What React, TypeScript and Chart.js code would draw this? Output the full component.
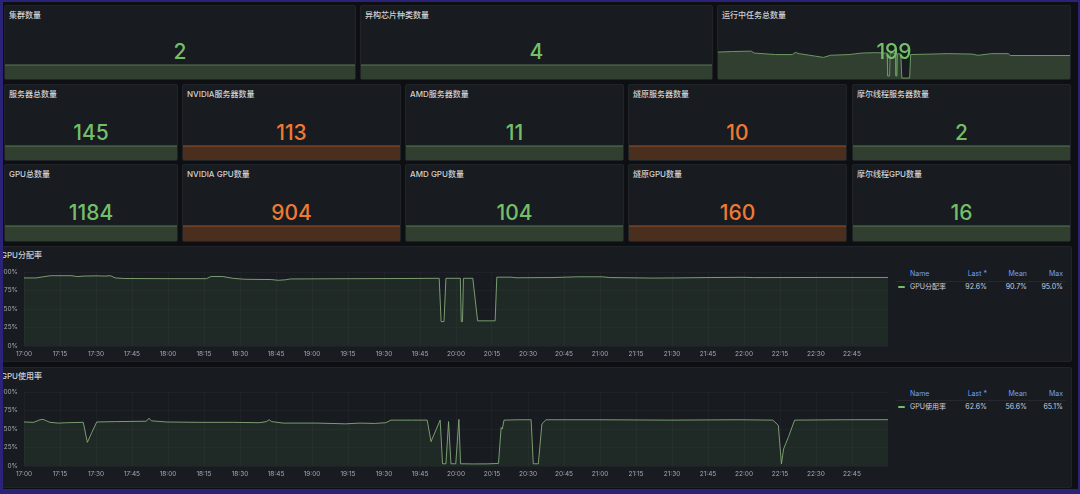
import React, { useEffect, useRef } from "react";
import { Chart, registerables } from "chart.js";

Chart.register(...registerables);

// ---------------- data ----------------
const RANGE_MIN = 0;
const RANGE_MAX = 360; // minutes after 17:00
const TICK_MINUTES = [0, 15, 30, 45, 60, 75, 90, 105, 120, 135, 150, 165, 180, 195, 210, 225, 240, 255, 270, 285, 300, 315, 330, 345];
const TICK_LABELS = ["17:00", "17:15", "17:30", "17:45", "18:00", "18:15", "18:30", "18:45", "19:00", "19:15", "19:30", "19:45", "20:00", "20:15", "20:30", "20:45", "21:00", "21:15", "21:30", "21:45", "22:00", "22:15", "22:30", "22:45"];
const Y_TICKS = [0, 25, 50, 75, 100];

const ROW1_TITLES = ["集群数量", "异构芯片种类数量", "运行中任务总数量"];
const ROW1_VALUES = [2, 4, 199];
const ROW2_TITLES = ["服务器总数量", "NVIDIA服务器数量", "AMD服务器数量", "燧原服务器数量", "摩尔线程服务器数量"];
const ROW2_VALUES = [145, 113, 11, 10, 2];
const ROW2_LEVELS = ["ok", "warn", "ok", "warn", "ok"];
const ROW3_TITLES = ["GPU总数量", "NVIDIA GPU数量", "AMD GPU数量", "燧原GPU数量", "摩尔线程GPU数量"];
const ROW3_VALUES = [1184, 904, 104, 160, 16];
const ROW3_LEVELS = ["ok", "warn", "ok", "warn", "ok"];

const FLAT_T = [0, 360];

const TASK_T = [0, 15, 34, 37, 59, 76, 79, 83, 100, 108, 115, 134, 147, 161, 171, 173, 173.5, 175.5, 176, 181.5, 182, 183, 183.5, 187, 188, 196, 197, 236, 260, 266, 280, 297, 299, 360];
const TASK_V = [228, 233, 236, 220, 207, 207, 225, 215, 193, 183, 201, 207, 220, 223, 220, 220, 25, 25, 220, 220, 25, 25, 215, 212, 8, 8, 207, 215, 211, 201, 215, 215, 199, 199];
const TASK_MAX = 322;

const ALLOC_T = [0, 5, 8, 11, 20, 22, 25, 30, 34, 36, 38, 42, 60, 76, 78, 83, 87, 92, 103, 106, 109, 111, 125, 140, 160, 173, 173.8, 175, 175.8, 181.8, 182.2, 182.7, 183.1, 187, 189, 196.3, 197, 203, 205, 220, 231, 241, 244, 262, 272, 285, 300, 304, 330, 360];
const ALLOC_V = [92, 92, 93.5, 95, 95, 93.8, 94.5, 94.8, 94.5, 95, 92, 91.2, 91, 91, 94, 93.8, 91.5, 90.2, 89.8, 88.8, 89.5, 90.6, 90.8, 91, 91.2, 91.5, 33, 33, 91.5, 91.5, 33, 33, 91.5, 91.5, 34, 34, 93, 93, 92.2, 92.5, 93.5, 93.5, 92.5, 91.8, 92, 92.5, 92.8, 92.4, 92.6, 92.6];
const ALLOC_STATS = ["92.6%", "90.7%", "95.0%"];

const USAGE_T = [0, 4, 6.7, 8, 9.4, 10.8, 14.3, 17.8, 24.7, 26.4, 28.2, 30.3, 38.6, 51, 52, 53.2, 59.4, 73, 87, 98, 101, 102.2, 103.2, 108, 122, 134, 140, 146, 150.7, 152.9, 161.5, 168, 169.6, 171.8, 173.4, 174.4, 175.8, 176.9, 177.9, 179.9, 181.2, 181.9, 187.3, 193.1, 197.7, 198.8, 199.3, 200, 206, 211.3, 212.2, 214.3, 215.8, 217.5, 240, 269, 298, 312, 314.3, 315.6, 316.5, 318.6, 321.1, 341, 360];
const USAGE_V = [59.5, 59, 62.5, 63, 61, 59, 58, 58.5, 59, 32, 45, 59.5, 60, 60.5, 64.5, 61, 59.5, 59, 59, 58.5, 60, 62.5, 60, 58, 58, 57, 58, 57.5, 58.5, 62, 62, 62, 33, 50, 62, 3, 3, 60, 3, 3, 63, 3, 2.8, 2.9, 3.5, 52, 50, 62, 62.5, 62.5, 3, 3, 57, 62.5, 62.5, 62, 62.5, 62, 55, 3, 23, 40, 62, 62.5, 62.6];
const USAGE_STATS = ["62.6%", "56.6%", "65.1%"];

const LEGEND_HEADERS = ["Name", "Last *", "Mean", "Max"];

// ---------------- style ----------------
const FONT = 'Inter, "Noto Sans CJK SC", "Noto Sans", sans-serif';
const BG = "#0e0f13";
const PANEL_BG = "#181b1f";
const PANEL_BORDER = "#202328";
const TITLE_COLOR = "#d0d1d6";
const TICK_COLOR = "rgba(204,204,220,0.78)";
const GRID = "rgba(204,204,220,0.035)";
const FRAME = "#2b2378";
const COLORS = {
  ok: { text: "#73bf69", fill: "#313f30", line: "#587a51" },
  warn: { text: "#ec7a35", fill: "#4a2e1e", line: "#99522a" },
};

function pts(t: number[], v: number[]) {
  return t.map((x, i) => ({ x, y: v[i] }));
}

function CanvasChart({ left, top, width, height, makeConfig }: any) {
  const ref = useRef<HTMLCanvasElement | null>(null);
  useEffect(() => {
    const chart = new Chart(ref.current as HTMLCanvasElement, makeConfig());
    return () => chart.destroy();
  }, []);
  return (
    <canvas
      ref={ref}
      width={width}
      height={height}
      style={{ position: "absolute", left, top, width, height, display: "block" }}
    />
  );
}

function sparkConfig(t: number[], v: number[], max: number, line: string, fill: string) {
  return () => ({
    type: "line",
    data: {
      datasets: [
        {
          data: pts(t, v),
          borderColor: line,
          backgroundColor: fill,
          borderWidth: 1,
          fill: "origin",
          pointRadius: 0,
          tension: 0,
          clip: false,
        },
      ],
    },
    options: {
      animation: false,
      responsive: false,
      events: [],
      layout: { padding: { top: 1, left: 0, right: 0, bottom: 0 } },
      scales: {
        x: { type: "linear", display: false, min: RANGE_MIN, max: RANGE_MAX },
        y: { display: false, min: 0, max },
      },
      plugins: { legend: { display: false }, tooltip: { enabled: false } },
    },
  });
}

function StatPanel({ left, top, width, height, title, value, level, band, valueCenter, series }: any) {
  const c = COLORS[level as "ok" | "warn"];
  const fs = 21;
  const innerW = width - 2;
  return (
    <div
      style={{
        position: "absolute",
        left,
        top,
        width,
        height,
        boxSizing: "border-box",
        background: PANEL_BG,
        border: `1px solid ${PANEL_BORDER}`,
        borderRadius: 2,
        overflow: "hidden",
      }}
    >
      <CanvasChart
        left={0}
        top={height - 2 - band}
        width={innerW}
        height={band}
        makeConfig={sparkConfig(series.t, series.v, series.max, series.line || c.line, c.fill)}
      />
      <div
        style={{
          position: "absolute",
          left: 4,
          top: 5,
          fontSize: 8,
          lineHeight: "8px",
          fontWeight: 500,
          color: TITLE_COLOR,
          whiteSpace: "nowrap",
          zIndex: 2,
        }}
      >
        {title}
      </div>
      <div
        style={{
          position: "absolute",
          left: 0,
          right: 0,
          top: valueCenter - 1 - fs / 2,
          fontSize: fs,
          lineHeight: `${fs}px`,
          fontWeight: 500,
          color: c.text,
          textAlign: "center",
          zIndex: 2,
        }}
      >
        {value}
      </div>
    </div>
  );
}

function tsConfig(t: number[], v: number[]) {
  return () => ({
    type: "line",
    data: {
      datasets: [
        {
          data: pts(t, v),
          borderColor: "rgba(138,178,126,0.85)",
          backgroundColor: "rgba(115,191,105,0.09)",
          borderWidth: 1,
          fill: "origin",
          pointRadius: 0,
          tension: 0,
        },
      ],
    },
    options: {
      animation: false,
      responsive: false,
      events: [],
      layout: { padding: { top: 10, right: 2, left: 0, bottom: 0 } },
      scales: {
        x: {
          type: "linear",
          min: RANGE_MIN,
          max: RANGE_MAX,
          afterBuildTicks: (s: any) => {
            s.ticks = TICK_MINUTES.map((m) => ({ value: m }));
          },
          afterFit: (s: any) => {
            s.height = 16;
          },
          grid: { color: GRID, drawTicks: false },
          border: { display: false },
          ticks: {
            autoSkip: false,
            maxRotation: 0,
            padding: 4,
            color: TICK_COLOR,
            font: { family: FONT, size: 6.5 },
            callback: (val: any) => {
              const i = TICK_MINUTES.indexOf(Number(val));
              return i >= 0 ? TICK_LABELS[i] : "";
            },
          },
        },
        y: {
          min: 0,
          max: 100,
          afterBuildTicks: (s: any) => {
            s.ticks = Y_TICKS.map((m) => ({ value: m }));
          },
          afterFit: (s: any) => {
            s.width = 24;
          },
          grid: { color: GRID, drawTicks: false },
          border: { display: false },
          ticks: {
            padding: 6,
            color: TICK_COLOR,
            font: { family: FONT, size: 6.5 },
            callback: (val: any) => `${val}%`,
          },
        },
      },
      plugins: { legend: { display: false }, tooltip: { enabled: false } },
    },
  });
}

function TimeSeriesPanel({ top, height, title, t, v, name, stats, canvasTop, headerY, rowY }: any) {
  const lbl = (txt: string, x: number, y: number, align: "left" | "right", color: string, key: string) => (
    <div
      key={key}
      style={{
        position: "absolute",
        top: y - 4,
        ...(align === "left" ? { left: x } : { left: x - 60, width: 60, textAlign: "right" as const }),
        fontSize: 7,
        lineHeight: "8px",
        color,
        whiteSpace: "nowrap",
      }}
    >
      {txt}
    </div>
  );
  const colRight = [987, 1027, 1063];
  return (
    <>
      <div
        style={{
          position: "absolute",
          left: -5,
          top,
          width: 1077,
          height,
          boxSizing: "border-box",
          background: PANEL_BG,
          border: `1px solid ${PANEL_BORDER}`,
          borderRadius: 2,
        }}
      />
      <div
        style={{
          position: "absolute",
          left: 1,
          top: top + 5,
          fontSize: 8,
          lineHeight: "9px",
          fontWeight: 500,
          color: TITLE_COLOR,
          whiteSpace: "nowrap",
        }}
      >
        {title}
      </div>
      <CanvasChart left={0} top={canvasTop} width={890} height={100} makeConfig={tsConfig(t, v)} />
      {lbl(LEGEND_HEADERS[0], 910, headerY, "left", "#6e9fff", "h0")}
      {lbl(LEGEND_HEADERS[1], colRight[0], headerY, "right", "#6e9fff", "h1")}
      {lbl(LEGEND_HEADERS[2], colRight[1], headerY, "right", "#6e9fff", "h2")}
      {lbl(LEGEND_HEADERS[3], colRight[2], headerY, "right", "#6e9fff", "h3")}
      <div
        style={{
          position: "absolute",
          left: 896,
          top: Math.round((headerY + rowY) / 2),
          width: 170,
          height: 1,
          background: "rgba(204,204,220,0.08)",
        }}
      />
      <div
        style={{
          position: "absolute",
          left: 898,
          top: rowY - 1,
          width: 7,
          height: 2,
          borderRadius: 1,
          background: "#73bf69",
        }}
      />
      {lbl(name, 910, rowY, "left", "#ccccdc", "n")}
      {lbl(stats[0], colRight[0], rowY, "right", "#ccccdc", "s0")}
      {lbl(stats[1], colRight[1], rowY, "right", "#ccccdc", "s1")}
      {lbl(stats[2], colRight[2], rowY, "right", "#ccccdc", "s2")}
    </>
  );
}

// layout
const ROW1_COLS = [
  [4, 356],
  [360, 713],
  [717, 1071],
];
const ROW23_COLS = [
  [4, 178],
  [182, 401],
  [405, 624],
  [628, 847],
  [852, 1071],
];

export default function App() {
  return (
    <div
      style={{
        position: "relative",
        width: 1080,
        height: 494,
        overflow: "hidden",
        background: BG,
        fontFamily: FONT,
      }}
    >
      <style>{`body{margin:0;background:${BG};}`}</style>

      {ROW1_TITLES.map((title, i) => {
        const [l, r] = ROW1_COLS[i];
        const isTask = i === 2;
        return (
          <StatPanel
            key={`r1-${i}`}
            left={l}
            top={5}
            width={r - l}
            height={75}
            title={title}
            value={ROW1_VALUES[i]}
            level="ok"
            band={isTask ? 39 : 15}
            valueCenter={46}
            series={
              isTask
                ? { t: TASK_T, v: TASK_V, max: TASK_MAX, line: "#6a9960" }
                : { t: FLAT_T, v: [ROW1_VALUES[i], ROW1_VALUES[i]], max: ROW1_VALUES[i] }
            }
          />
        );
      })}

      {ROW2_TITLES.map((title, i) => {
        const [l, r] = ROW23_COLS[i];
        return (
          <StatPanel
            key={`r2-${i}`}
            left={l}
            top={84}
            width={r - l}
            height={77}
            title={title}
            value={ROW2_VALUES[i]}
            level={ROW2_LEVELS[i]}
            band={15}
            valueCenter={48.5}
            series={{ t: FLAT_T, v: [ROW2_VALUES[i], ROW2_VALUES[i]], max: ROW2_VALUES[i] }}
          />
        );
      })}

      {ROW3_TITLES.map((title, i) => {
        const [l, r] = ROW23_COLS[i];
        return (
          <StatPanel
            key={`r3-${i}`}
            left={l}
            top={164}
            width={r - l}
            height={78}
            title={title}
            value={ROW3_VALUES[i]}
            level={ROW3_LEVELS[i]}
            band={16}
            valueCenter={48.5}
            series={{ t: FLAT_T, v: [ROW3_VALUES[i], ROW3_VALUES[i]], max: ROW3_VALUES[i] }}
          />
        );
      })}

      <TimeSeriesPanel
        top={246}
        height={116}
        title="GPU分配率"
        t={ALLOC_T}
        v={ALLOC_V}
        name="GPU分配率"
        stats={ALLOC_STATS}
        canvasTop={262}
        headerY={274}
        rowY={287}
      />
      <TimeSeriesPanel
        top={367}
        height={121}
        title="GPU使用率"
        t={USAGE_T}
        v={USAGE_V}
        name="GPU使用率"
        stats={USAGE_STATS}
        canvasTop={382}
        headerY={393.5}
        rowY={407}
      />

      {/* outer frame */}
      <div style={{ position: "absolute", left: 0, top: 0, width: 3, height: 494, background: FRAME, zIndex: 10 }} />
      <div style={{ position: "absolute", left: 0, top: 0, width: 1080, height: 2, background: FRAME, zIndex: 10 }} />
      <div style={{ position: "absolute", left: 0, top: 489, width: 1080, height: 5, background: FRAME, zIndex: 10 }} />
      <div style={{ position: "absolute", left: 1078, top: 0, width: 2, height: 494, background: FRAME, zIndex: 10 }} />
    </div>
  );
}
